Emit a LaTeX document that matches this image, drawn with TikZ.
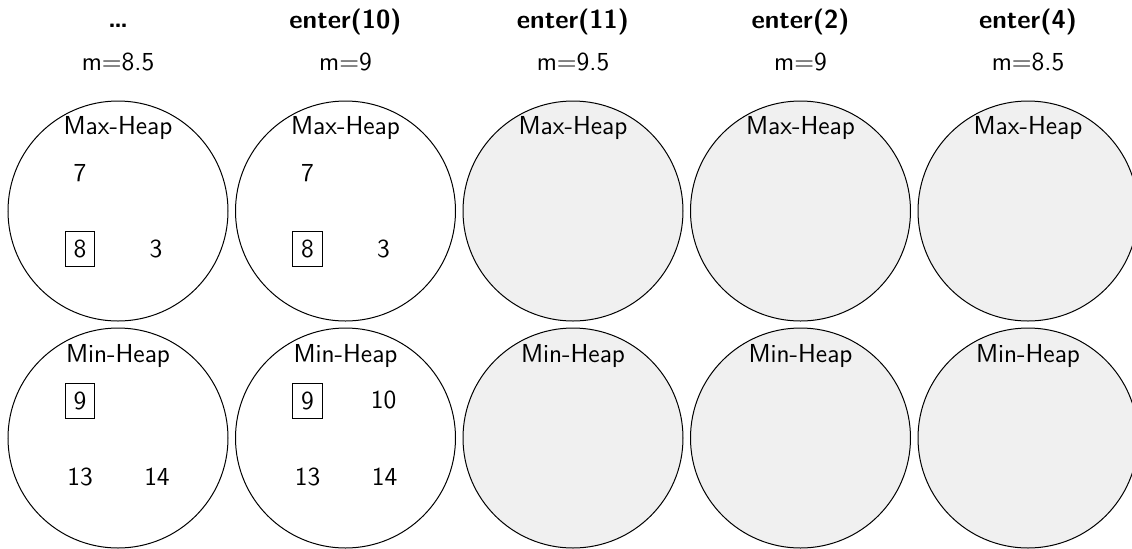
\documentclass[tikz,border=0pt]{standalone}
\usepackage{fontspec}
\begin{document}
\begin{tikzpicture}[x=0.5pt,y=-0.5pt,
  txt/.style={font=\sffamily\fontsize{13}{15.6}\selectfont, inner sep=0pt},
  ttl/.style={font=\sffamily\bfseries\fontsize{13}{15.6}\selectfont, inner sep=0pt, anchor=base},
  heap/.style={circle, draw, line width=0.5pt, minimum size=110pt, inner sep=0pt},
  grayheap/.style={heap, fill=gray!12},
  hlabel/.style={txt, anchor=base},
  num/.style={txt},
  boxed/.style={txt, draw, line width=0.5pt, inner sep=4.3pt}]
\useasboundingbox (0,0) rectangle (1132,548);
% circles
\node[heap] (max1) at (118,211) {};
\node[heap] (min1) at (118,438) {};
\node[heap] (max2) at (345.5,211) {};
\node[heap] (min2) at (345.5,438) {};
\node[grayheap] (max3) at (573,211) {};
\node[grayheap] (min3) at (573,438) {};
\node[grayheap] (max4) at (800.5,211) {};
\node[grayheap] (min4) at (800.5,438) {};
\node[grayheap] (max5) at (1028,211) {};
\node[grayheap] (min5) at (1028,438) {};
% titles
\node[ttl] (t1) at (118,27) {\ldots};
\node[ttl] (t2) at (345.5,28) {enter(10)};
\node[ttl] (t3) at (573,28) {enter(11)};
\node[ttl] (t4) at (800.5,28) {enter(2)};
\node[ttl] (t5) at (1028,28) {enter(4)};
\node[hlabel] (m1) at (118,70) {m=8.5};
\node[hlabel] (m2) at (345.5,70) {m=9};
\node[hlabel] (m3) at (573,70) {m=9.5};
\node[hlabel] (m4) at (800.5,70) {m=9};
\node[hlabel] (m5) at (1028,70) {m=8.5};
% heap labels
\foreach \c/\x in {1/118,2/345.5,3/573,4/800.5,5/1028}{
  \node[hlabel] (maxl\c) at (\x,134) {Max-Heap};
  \node[hlabel] (minl\c) at (\x,362) {Min-Heap};
}
% column 1 contents
\node[num] (a7) at (80,173) {7};
\node[boxed] (a8) at (80,249) {8};
\node[num] (a3) at (156,249) {3};
\node[boxed] (a9) at (80,401) {9};
\node[num] (a13) at (80,477) {13};
\node[num] (a14) at (157,477) {14};
% column 2 contents
\node[num] (b7) at (307.5,173) {7};
\node[boxed] (b8) at (307.5,249) {8};
\node[num] (b3) at (383.5,249) {3};
\node[boxed] (b9) at (307.5,401) {9};
\node[num] (b10) at (383.5,400) {10};
\node[num] (b13) at (307.5,477) {13};
\node[num] (b14) at (384.5,477) {14};
\end{tikzpicture}
\end{document}
